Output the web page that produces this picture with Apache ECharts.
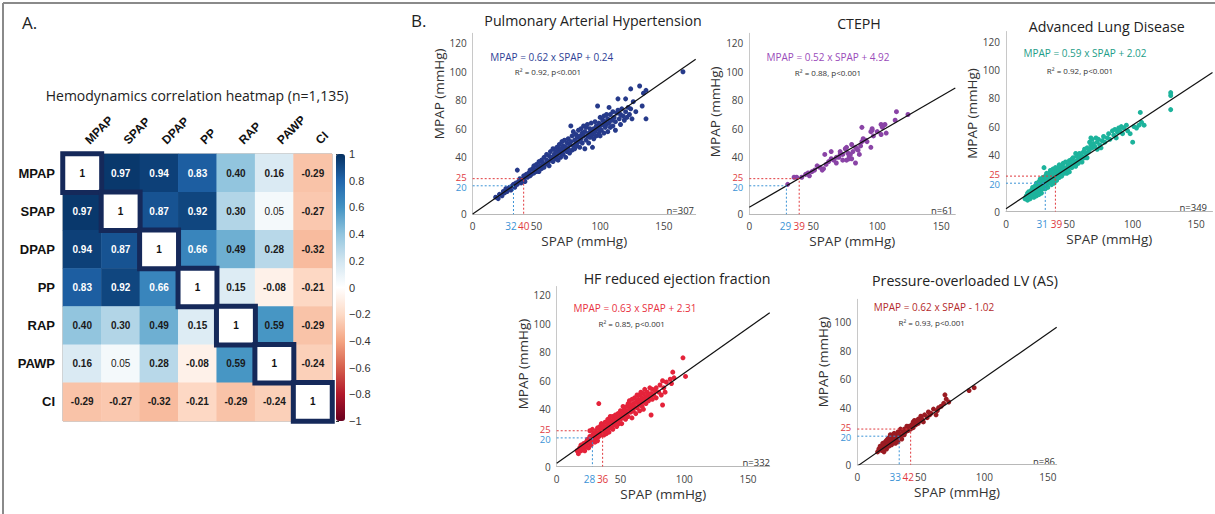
<!DOCTYPE html>
<html><head><meta charset="utf-8">
<script src="https://cdn.jsdelivr.net/npm/echarts@6/dist/echarts.min.js"></script>
<style>html,body{margin:0;padding:0;background:#fff}#c{width:1215px;height:514px}</style>
</head><body><div id="c"></div>
<script>
// ---------- DATA ----------
const heatLabels = ['MPAP','SPAP','DPAP','PP','RAP','PAWP','CI'];
const corrMatrix = [
  [1, 0.97, 0.94, 0.83, 0.40, 0.16, -0.29],
  [0.97, 1, 0.87, 0.92, 0.30, 0.05, -0.27],
  [0.94, 0.87, 1, 0.66, 0.49, 0.28, -0.32],
  [0.83, 0.92, 0.66, 1, 0.15, -0.08, -0.21],
  [0.40, 0.30, 0.49, 0.15, 1, 0.59, -0.29],
  [0.16, 0.05, 0.28, -0.08, 0.59, 1, -0.24],
  [-0.29, -0.27, -0.32, -0.21, -0.29, -0.24, 1]
];
const heatTitle = 'Hemodynamics correlation heatmap (n=1,135)';
const panelTitles = ['Pulmonary Arterial Hypertension','CTEPH','Advanced Lung Disease','HF reduced ejection fraction','Pressure-overloaded LV (AS)'];
const slopes = [0.62, 0.52, 0.59, 0.63, 0.62];
const intercepts = [0.24, 4.92, 2.02, 2.31, -1.02];
const r2Values = ['0.92','0.88','0.92','0.85','0.93'];
const nValues = [307, 61, 349, 332, 86];
const spapAt20 = [32, 29, 31, 28, 33];
const spapAt25 = [40, 39, 39, 36, 42];
const mpapCut20 = 20, mpapCut25 = 25;
const xTickValues = [0, 50, 100, 150];
const yTickValuesTop = [0, 40, 60, 80, 100, 120];
const yTickValuesAS = [0, 40, 60, 80, 100];

const pahPoints = [[18,12],[20,11],[21,14],[23,13],[24,16],[25,15],[26,18],[27,16],[28,18],[29,19],[30,17],[31,20],[32,21],[33,19],[34,22],[35,31],[35,21],[36,23],[37,25],[38,22],[39,24],[40,27],[40,25],[41,23],[42,28],[43,26],[44,29],[45,27],[45,31],[46,28],[47,32],[48,29],[48,34],[49,31],[50,30],[50,35],[51,33],[52,30],[52,37],[53,34],[54,32],[54,38],[55,36],[56,33],[56,40],[57,35],[58,38],[58,42],[59,36],[60,34],[60,41],[61,38],[61,44],[62,40],[63,37],[63,46],[64,42],[65,39],[65,44],[66,47],[66,41],[67,38],[67,45],[68,43],[68,49],[69,40],[69,46],[70,44],[70,51],[71,42],[71,48],[72,45],[72,52],[73,40],[73,47],[74,44],[74,50],[75,46],[75,53],[76,43],[76,49],[77,51],[77,62],[78,45],[78,55],[79,48],[79,58],[80,46],[80,52],[81,50],[81,56],[82,48],[82,54],[83,51],[83,59],[84,47],[84,55],[85,53],[85,60],[86,50],[86,57],[87,55],[87,62],[88,46],[88,58],[89,52],[89,61],[90,55],[90,63],[91,57],[91,50],[92,54],[92,60],[93,58],[93,64],[94,47],[94,56],[95,60],[95,53],[96,58],[96,65],[97,55],[97,62],[98,76],[98,60],[99,57],[99,64],[100,55],[100,62],[100,68],[101,59],[102,63],[102,66],[103,57],[103,69],[104,61],[104,65],[105,63],[105,70],[106,58],[106,67],[107,75],[107,64],[108,61],[108,70],[109,66],[110,62],[110,72],[111,68],[112,59],[112,65],[113,71],[114,73],[114,81],[115,67],[116,63],[116,70],[117,74],[118,69],[119,66],[120,81],[120,72],[121,68],[122,75],[123,70],[124,74],[124,88],[125,67],[126,79],[128,72],[131,90],[133,76],[134,85],[136,87],[136,67],[165,100]];
const ctephPoints = [[115,72],[124,70],[114,66],[103,63],[104,61],[107,57],[103,56],[96,59],[95,58],[88,61],[89,53],[91,52],[88,51],[95,47],[85,45],[83,47],[80,49],[76,47],[75,46],[77,43],[73,42],[71,42],[68,40],[64,44],[66,38],[68,36],[76,38],[80,39],[78,39],[83,36],[73,38],[79,42],[59,42],[60,35],[58,32],[53,34],[51,31],[46,29],[47,27],[41,26],[37,26],[35,26],[30,21],[71,44],[84,46],[87,48],[92,51],[97,55],[100,58],[96,60],[106,63],[57,31],[64,39],[62,37],[55,33],[44,28],[49,30],[81,44],[78,41],[86,42],[70,40]];
const aldPoints = [[15,9],[16,11],[17,8],[17,13],[18,10],[18,14],[19,12],[19,9],[20,15],[20,11],[21,13],[21,17],[22,10],[22,15],[23,18],[23,13],[24,16],[24,11],[24,20],[25,14],[25,18],[26,16],[26,21],[26,12],[27,19],[27,15],[27,23],[28,17],[28,21],[28,13],[29,19],[29,24],[29,16],[30,22],[30,18],[30,31],[31,20],[31,25],[31,16],[32,22],[32,19],[32,27],[33,21],[33,24],[33,17],[34,23],[34,27],[34,20],[35,25],[35,21],[35,29],[36,24],[36,19],[36,27],[37,22],[37,26],[37,30],[38,24],[38,28],[38,20],[39,26],[39,23],[39,31],[40,25],[40,29],[40,22],[41,27],[41,31],[42,24],[42,29],[42,33],[43,26],[43,30],[44,28],[44,32],[44,25],[45,30],[45,34],[46,27],[46,31],[47,29],[47,35],[48,31],[48,27],[49,33],[49,30],[50,32],[50,36],[50,28],[51,34],[52,31],[52,37],[53,33],[53,38],[54,35],[55,32],[55,41],[56,36],[56,39],[57,34],[58,38],[58,41],[59,36],[60,39],[60,35],[61,42],[62,38],[62,44],[63,41],[64,45],[64,38],[65,42],[66,44],[66,49],[67,47],[67,52],[68,45],[68,51],[69,48],[70,46],[71,52],[72,44],[72,49],[73,51],[74,47],[75,45],[76,50],[77,53],[78,49],[80,52],[81,55],[82,51],[84,57],[85,54],[86,58],[87,52],[88,56],[89,59],[90,57],[91,60],[92,55],[93,59],[95,61],[96,57],[98,55],[100,49],[101,60],[103,59],[105,61],[106,70],[107,63],[109,61],[130,84],[130,82],[130,72]];
const hfPoints = [[16,11],[17,9],[18,13],[19,11],[19,15],[20,12],[21,16],[21,13],[22,15],[22,11],[23,17],[23,14],[24,19],[24,16],[25,13],[25,18],[26,21],[26,16],[26,25],[27,19],[27,15],[28,22],[28,18],[28,26],[29,20],[29,24],[30,17],[30,22],[31,25],[31,20],[32,23],[32,27],[32,18],[33,21],[33,26],[33,44],[34,24],[34,28],[35,22],[35,26],[35,30],[36,24],[36,29],[37,27],[37,22],[38,25],[38,31],[39,28],[39,23],[40,30],[40,26],[40,33],[41,28],[41,24],[42,31],[42,35],[43,27],[43,32],[44,30],[44,35],[44,26],[45,33],[45,29],[46,36],[46,31],[47,28],[47,34],[48,37],[48,32],[49,30],[49,35],[50,39],[50,33],[51,36],[51,30],[52,38],[52,34],[52,42],[53,36],[53,40],[54,33],[54,39],[55,42],[55,37],[56,35],[56,44],[57,40],[57,46],[58,38],[58,43],[59,34],[59,41],[59,47],[60,39],[60,44],[61,42],[61,48],[62,37],[62,45],[63,41],[63,50],[64,44],[64,47],[65,39],[65,43],[65,50],[66,46],[66,52],[67,42],[67,48],[68,40],[68,45],[68,51],[69,47],[69,54],[70,44],[70,49],[71,52],[72,46],[72,50],[73,48],[73,55],[74,36],[74,51],[75,47],[75,54],[76,50],[77,53],[78,48],[78,55],[80,52],[81,57],[82,50],[83,43],[83,60],[84,55],[85,52],[86,59],[89,61],[90,58],[91,66],[92,62],[99,76],[101,63]];
const asPoints = [[16,9],[17,11],[18,13],[19,10],[20,12],[20,15],[21,14],[21,9],[22,16],[22,13],[23,17],[23,11],[24,15],[24,18],[25,13],[25,19],[26,17],[26,21],[27,14],[27,18],[28,20],[28,16],[29,17],[29,22],[30,15],[30,19],[31,21],[31,18],[32,16],[32,23],[33,19],[33,22],[34,20],[34,25],[35,18],[36,23],[37,25],[37,21],[38,23],[39,27],[40,24],[40,26],[41,27],[42,25],[43,28],[44,26],[44,30],[45,31],[46,28],[47,30],[48,32],[48,29],[49,31],[50,34],[51,32],[52,30],[53,35],[55,33],[56,37],[57,35],[58,36],[60,39],[62,35],[63,38],[64,40],[66,41],[68,43],[69,49],[70,46],[72,44],[88,52],[92,54]];
const panelPoints = [pahPoints, ctephPoints, aldPoints, hfPoints, asPoints];
const lineEnds = [175, 161, 163, 167, 157];

// ---------- STYLE / LAYOUT ----------
const FONT = "'Open Sans', sans-serif";
const HFONT = "'Liberation Sans', Arial, sans-serif";
const pointColors = ['#263a8a', '#8a44a6', '#1db39c', '#e4233a', '#9a1b22'];
const eqColors = ['#2e3f96', '#9a4cba', '#1e9d88', '#e8323f', '#b42a2b'];
const RED = '#e03a3e', BLUE = '#3b93d6';
// xLabShift: pixel nudge [blue, red] of the coloured x labels (negative = left)
const layout = [
  {left: 472.7, top: 33.3, width: 223, height: 181, xMax: 175, yMax: 127, yTicks: yTickValuesTop, nameShift: 60, xLabShift: [-2.5, 0],
   title: [593, 20], eq: [551.7, 56.7], r2: [548, 71.7], n: [694, 210]},
  {left: 749.3, top: 33.3, width: 206, height: 181, xMax: 161, yMax: 127, yTicks: yTickValuesTop, nameShift: 24, xLabShift: [-1, 0],
   title: [859, 23], eq: [828, 56.7], r2: [828, 72], n: [953, 210]},
  {left: 1006, top: 31.5, width: 206.5, height: 180, xMax: 163, yMax: 127.2, yTicks: yTickValuesTop, nameShift: 16, xLabShift: [-3, 1],
   title: [1106.7, 26.7], eq: [1085, 53.3], r2: [1080, 70], n: [1207, 207]},
  {left: 556.7, top: 286.5, width: 213, height: 180, xMax: 167, yMax: 125.9, yTicks: yTickValuesTop, nameShift: 25, xLabShift: [-3, 0],
   title: [677, 278.3], eq: [635, 308.3], r2: [631.7, 323.3], n: [770, 462]},
  {left: 857.3, top: 299.3, width: 199.4, height: 165.4, xMax: 157, yMax: 116, yTicks: yTickValuesAS, nameShift: 40, xLabShift: [-4, -2.5],
   title: [965, 280], eq: [934, 306.7], r2: [931.7, 322.3], n: [1055, 461]}
];

const grids = [
  {left: 63, top: 154, width: 269, height: 267, outerBoundsMode: 'none'},
  {left: 336, top: 154, width: 9, height: 267, outerBoundsMode: 'none'}
];
const xAxes = [
  {type: 'category', gridIndex: 0, data: heatLabels, position: 'top',
   axisLine: {show: false}, axisTick: {show: false}, splitLine: {show: false},
   axisLabel: {rotate: -45, interval: 0, margin: 7, align: 'left', verticalAlign: 'middle', padding: [0, 0, 0, 7], fontFamily: HFONT, fontWeight: 'bold', fontSize: 12, color: '#111'}},
  {type: 'value', gridIndex: 1, show: false, min: 0, max: 1}
];
const yAxes = [
  {type: 'category', gridIndex: 0, data: heatLabels, inverse: true,
   axisLine: {show: false}, axisTick: {show: false}, splitLine: {show: false},
   axisLabel: {interval: 0, margin: 8, fontFamily: HFONT, fontWeight: 'bold', fontSize: 13, color: '#111'}},
  {type: 'value', gridIndex: 1, position: 'right', min: -1, max: 1, interval: 0.2,
   axisLine: {show: false}, splitLine: {show: false},
   axisTick: {show: true, length: 3, lineStyle: {color: '#333'}},
   axisLabel: {margin: 4, fontFamily: HFONT, fontSize: 11, color: '#333',
     formatter: v => { const r = Math.round(v * 10) / 10; if (r === 0) return '0'; const a = Math.abs(r); const s = (a === 1) ? '1' : a.toFixed(1); return (r < 0 ? '\u2212' : '') + s; }}}
];

const heatData = [];
const diagData = [];
corrMatrix.forEach((row, i) => row.forEach((v, j) => {
  if (i === j) diagData.push([j, i, v]);
  else heatData.push({value: [j, i, v], label: {color: v > 0.6 ? '#ffffff' : '#1a1a1a', fontWeight: Math.abs(v) < 0.1 && v > 0 ? 'normal' : 'bold'}});
}));

const series = [
  {type: 'heatmap', xAxisIndex: 0, yAxisIndex: 0, data: heatData,
   label: {show: true, fontFamily: HFONT, fontSize: 10, formatter: p => p.value[2].toFixed(2)}},
  {type: 'heatmap', xAxisIndex: 0, yAxisIndex: 0, data: diagData, z: 3,
   itemStyle: {color: '#ffffff', borderColor: '#15295a', borderWidth: 5},
   label: {show: true, fontFamily: HFONT, fontSize: 10, fontWeight: 'bold', color: '#111', formatter: p => String(p.value[2])}}
];

const graphics = [
  {type: 'line', shape: {x1: 3, y1: 3, x2: 1215, y2: 3}, style: {stroke: '#8a8a8a', lineWidth: 2}},
  {type: 'line', shape: {x1: 3, y1: 3, x2: 3, y2: 514}, style: {stroke: '#8a8a8a', lineWidth: 2}},
  {type: 'rect', shape: {x: 63, y: 154, width: 269, height: 267}, style: {fill: 'none', stroke: '#9a9a9a', lineWidth: 1}, z: 1},
  {type: 'text', x: 22, y: 22, style: {text: 'A.', font: "17px 'Open Sans', sans-serif", fill: '#222', align: 'left', verticalAlign: 'middle'}},
  {type: 'text', x: 411, y: 20, style: {text: 'B.', font: "17px 'Open Sans', sans-serif", fill: '#222', align: 'left', verticalAlign: 'middle'}},
  {type: 'text', x: 197, y: 95, style: {text: heatTitle, font: "14px 'Open Sans', sans-serif", fill: '#222', align: 'center', verticalAlign: 'middle'}}
];

const shiftPad = s => s < 0 ? [0, -2 * s, 0, 0] : [0, 0, 0, 2 * s];

layout.forEach((L, k) => {
  const g = k + 2;
  grids.push({left: L.left, top: L.top, width: L.width, height: L.height, outerBoundsMode: 'none'});
  const c20 = spapAt20[k], c25 = spapAt25[k];
  const xVals = [0, c20, c25].concat(xTickValues.slice(1));
  const yVals = [0, mpapCut20, mpapCut25].concat(L.yTicks.slice(1));
  const colFmt = (b, r) => v => v === b ? '{b|' + v + '}' : (v === r ? '{r|' + v + '}' : String(v));
  const richX = {b: {color: BLUE, fontSize: 10, fontFamily: FONT, padding: shiftPad(L.xLabShift[0])},
                 r: {color: RED, fontSize: 10, fontFamily: FONT, padding: shiftPad(L.xLabShift[1])}};
  const richY = {b: {color: BLUE, fontSize: 9.5, fontFamily: FONT, lineHeight: 8, padding: [3, 0, 0, 0]},
                 r: {color: RED, fontSize: 9.5, fontFamily: FONT, lineHeight: 8, padding: [0, 0, 3, 0]}};
  xAxes.push({type: 'value', gridIndex: g, min: 0, max: L.xMax,
    axisLine: {show: true, lineStyle: {color: '#b8b8b8', width: 1}}, axisTick: {show: false}, splitLine: {show: false},
    axisLabel: {customValues: xVals, formatter: colFmt(c20, c25), rich: richX, color: '#444', fontSize: 10, fontFamily: FONT, margin: 7, showMinLabel: true, showMaxLabel: true},
    name: 'SPAP (mmHg)', nameLocation: 'middle', nameGap: 20, nameTextStyle: {color: '#333', fontSize: 13.5, fontFamily: FONT}});
  yAxes.push({type: 'value', gridIndex: g, min: 0, max: L.yMax,
    axisLine: {show: true, lineStyle: {color: '#c8c8c8', width: 1}}, axisTick: {show: false}, splitLine: {show: false},
    axisLabel: {customValues: yVals, formatter: colFmt(mpapCut20, mpapCut25), rich: richY, color: '#444', fontSize: 10, fontFamily: FONT, margin: 6},
    name: 'MPAP (mmHg)', nameLocation: 'middle', nameGap: 19, nameRotate: 90,
    nameTextStyle: {color: '#333', fontSize: 13.5, fontFamily: FONT, padding: [0, 0, 0, L.nameShift]}});
  series.push({type: 'scatter', xAxisIndex: g, yAxisIndex: g, data: panelPoints[k], symbolSize: 5,
    itemStyle: {color: pointColors[k], opacity: 1}, silent: true});
  const m = slopes[k], b = intercepts[k], xe = lineEnds[k];
  series.push({type: 'line', xAxisIndex: g, yAxisIndex: g, data: [[0, b], [xe, m * xe + b]], symbol: 'none', silent: true,
    lineStyle: {color: '#111', width: 1.2}, z: 4});
  series.push({type: 'line', xAxisIndex: g, yAxisIndex: g, data: [[0, mpapCut25], [c25, mpapCut25], [c25, 0]], symbol: 'none', silent: true,
    lineStyle: {color: RED, width: 1, type: [2, 2]}, z: 5});
  series.push({type: 'line', xAxisIndex: g, yAxisIndex: g, data: [[0, mpapCut20], [c20, mpapCut20], [c20, 0]], symbol: 'none', silent: true,
    lineStyle: {color: BLUE, width: 1, type: [2, 2]}, z: 5});
  const sign = b < 0 ? ' - ' : ' + ';
  graphics.push({type: 'text', x: L.title[0], y: L.title[1], style: {text: panelTitles[k], font: "14.2px 'Open Sans', sans-serif", fill: '#222', align: 'center', verticalAlign: 'middle'}});
  graphics.push({type: 'text', x: L.eq[0], y: L.eq[1], style: {text: 'MPAP = ' + m.toFixed(2) + ' x SPAP' + sign + Math.abs(b).toFixed(2), font: "10px 'Open Sans', sans-serif", fill: eqColors[k], align: 'center', verticalAlign: 'middle'}});
  graphics.push({type: 'text', x: L.r2[0], y: L.r2[1], style: {text: 'R\u00b2 = ' + r2Values[k] + ', p<0.001', font: "8px 'Open Sans', sans-serif", fill: '#333', align: 'center', verticalAlign: 'middle'}});
  graphics.push({type: 'text', x: L.n[0], y: L.n[1], style: {text: 'n=' + nValues[k], font: "9.5px 'Open Sans', sans-serif", fill: '#333', align: 'right', verticalAlign: 'middle'}});
});

const chart = echarts.init(document.getElementById('c'), null, {renderer: 'svg'});
chart.setOption({
  animation: false,
  backgroundColor: '#ffffff',
  textStyle: {fontFamily: FONT},
  grid: grids,
  xAxis: xAxes,
  yAxis: yAxes,
  visualMap: {type: 'continuous', min: -1, max: 1, seriesIndex: 0, calculable: false, orient: 'vertical',
    left: 336, top: 154, itemWidth: 9, itemHeight: 267, padding: 0, textGap: 0,
    inRange: {color: ['#67001f','#b2182b','#d6604d','#f4a582','#fddbc7','#ffffff','#d1e5f0','#92c5de','#4393c3','#2166ac','#053061']}},
  series: series,
  graphic: graphics
});
</script></body></html>
